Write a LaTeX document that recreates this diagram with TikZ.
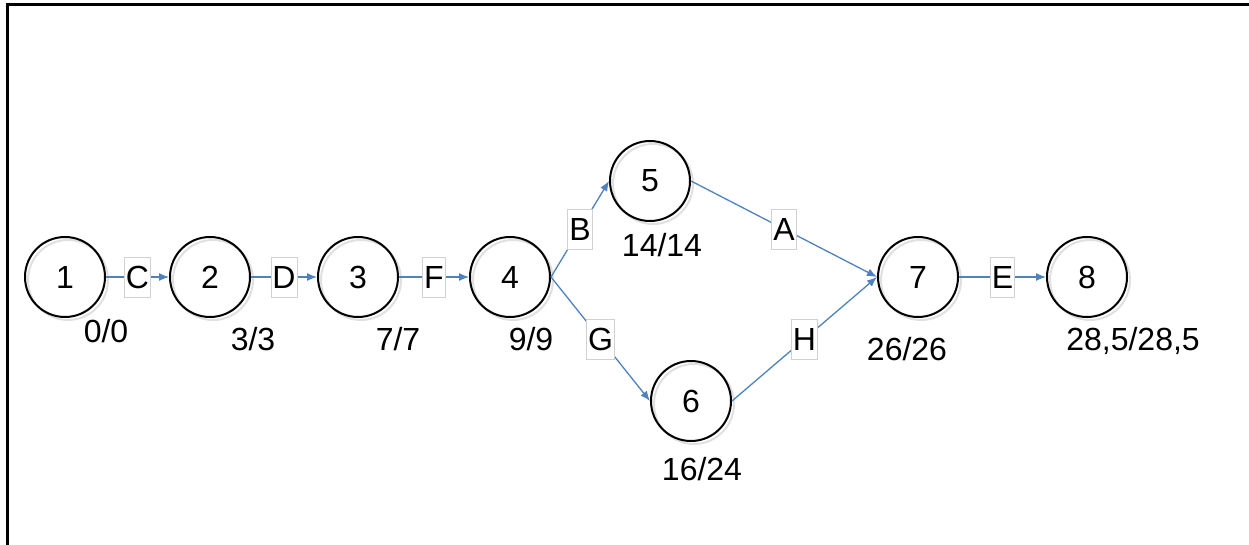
\documentclass[tikz,border=0pt]{standalone}
\usepackage{fontspec}
\setmainfont{Liberation Sans}
\usetikzlibrary{arrows.meta}
\definecolor{edgeblue}{RGB}{79,129,189}
\begin{document}
\begin{tikzpicture}[x=1pt,y=-1pt,
  bigfont/.style={font=\fontsize{32}{36}\selectfont},
  ev/.style={circle, draw=black, line width=2pt, minimum size=80pt, inner sep=0pt, bigfont,
    preaction={draw=black!12, line width=2pt, transform canvas={shift={(3pt,-3pt)}}}},
  act/.style={draw=edgeblue, line width=1.3pt, -{Latex[length=10pt,width=8pt]}},
  lab/.style={draw=black!18, line width=0.8pt, fill=white, inner xsep=1.5pt, inner ysep=0pt,
    minimum height=40pt, bigfont, text=black},
  tm/.style={anchor=base, bigfont, inner sep=0pt}]
\useasboundingbox (0,0) rectangle (1249,545);
\draw[line width=3pt] (7.5,545) -- (7.5,5) -- (1249,5);
\node[ev] (n1) at (65,277) {1};
\node[ev] (n2) at (210,277) {2};
\node[ev] (n3) at (358,277) {3};
\node[ev] (n4) at (510,277) {4};
\node[ev] (n5) at (650,181) {5};
\node[ev] (n6) at (691,401) {6};
\node[ev] (n7) at (918,277) {7};
\node[ev] (n8) at (1087,277) {8};
\draw[act] (n1.east) -- node[lab] (lc) {C} (n2.west);
\draw[act] (n2.east) -- node[lab] (ld) {D} (n3.west);
\draw[act] (n3.east) -- node[lab] (lf) {F} (n4.west);
\draw[act] (n4.east) -- node[lab] (lb) {B} (n5.west);
\draw[act] (n4.east) -- node[lab] (lg) {G} (n6.west);
\draw[act] (n5.east) -- node[lab] (la) {A} (n7.west);
\draw[act] (n6.east) -- node[lab] (lh) {H} (n7.west);
\draw[act] (n7.east) -- node[lab] (le) {E} (n8.west);
\node[tm] (t1) at (106,342) {0/0};
\node[tm] (t2) at (253,350) {3/3};
\node[tm] (t3) at (398,350) {7/7};
\node[tm] (t4) at (531,350) {9/9};
\node[tm] (t5) at (662,257) {14/14};
\node[tm] (t6) at (702,480) {16/24};
\node[tm] (t7) at (907,360) {26/26};
\node[tm] (t8) at (1133,350) {28,5/28,5};
\end{tikzpicture}
\end{document}
